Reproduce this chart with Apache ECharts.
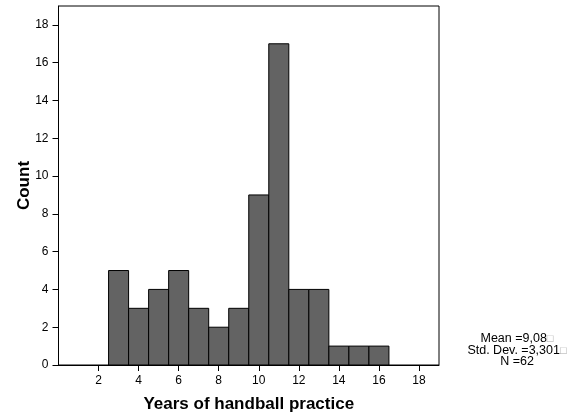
<!DOCTYPE html>
<html>
<head>
<meta charset="utf-8">
<script src="https://cdn.jsdelivr.net/npm/echarts@6/dist/echarts.min.js"></script>
<style>html,body{margin:0;padding:0;background:#fff;}#c{width:576px;height:416px;}</style>
</head>
<body>
<div id="c"></div>
<script>
var binCenters = [3, 4, 5, 6, 7, 8, 9, 10, 11, 12, 13, 14, 15, 16];
var counts = [5, 3, 4, 5, 3, 2, 3, 9, 17, 4, 4, 1, 1, 1];
var xTicks = [2, 4, 6, 8, 10, 12, 14, 16, 18];
var yTicks = [0, 2, 4, 6, 8, 10, 12, 14, 16, 18];
var statsLines = ['Mean =9,08', 'Std. Dev. =3,301', 'N =62'];
var statsBox = [true, true, false];

var data = binCenters.map(function (c, i) { return [c - 0.5, c + 0.5, counts[i]]; });

var chart = echarts.init(document.getElementById('c'), null, {renderer: 'canvas'});
var font = 'Arial, "Liberation Sans", sans-serif';
var statsY = [338.5, 350.8, 361.8];
var graphics = statsLines.map(function (t, i) {
  return {
    type: 'text', x: 517, y: statsY[i],
    style: {
      text: t + (statsBox[i] ? '{b|□}' : ''),
      font: '12.5px ' + font, fill: '#000', align: 'center', verticalAlign: 'middle',
      rich: {b: {fill: '#aaa', fontSize: 11}}
    }
  };
});
chart.setOption({
  animation: false,
  backgroundColor: '#fff',
  grid: {left: 58.5, top: 6, right: 137, bottom: 51, show: true, borderColor: '#000', borderWidth: 1, containLabel: false, outerBoundsMode: 'none'},
  xAxis: {
    type: 'value', min: 0, max: 19,
    name: 'Years of handball practice', nameLocation: 'middle', nameGap: 31, nameMoveOverlap: false,
    nameTextStyle: {fontFamily: font, fontWeight: 'bold', fontSize: 17, color: '#000'},
    axisLine: {show: true, onZero: false, lineStyle: {color: '#000', width: 1}},
    axisTick: {show: true, length: 6, lineStyle: {color: '#000'}, customValues: xTicks},
    axisLabel: {fontFamily: font, fontSize: 12, color: '#000', margin: 10, customValues: xTicks},
    splitLine: {show: false}
  },
  yAxis: {
    type: 'value', min: 0, max: 19,
    name: 'Count', nameLocation: 'middle', nameGap: 26, nameMoveOverlap: false,
    nameTextStyle: {fontFamily: font, fontWeight: 'bold', fontSize: 17, color: '#000'},
    axisLine: {show: true, lineStyle: {color: '#000', width: 1}},
    axisTick: {show: true, length: 6, lineStyle: {color: '#000'}, customValues: yTicks},
    axisLabel: {fontFamily: font, fontSize: 12, color: '#000', margin: 10, customValues: yTicks},
    splitLine: {show: false}
  },
  graphic: graphics,
  series: [{
    type: 'custom',
    data: data,
    renderItem: function (params, api) {
      var p0 = api.coord([api.value(0), api.value(2)]);
      var p1 = api.coord([api.value(1), 0]);
      return {
        type: 'rect',
        shape: {x: p0[0], y: p0[1], width: p1[0] - p0[0], height: p1[1] - p0[1]},
        style: {fill: '#636363', stroke: '#000', lineWidth: 1}
      };
    },
    encode: {x: [0, 1], y: 2}
  }]
});
</script>
</body>
</html>
